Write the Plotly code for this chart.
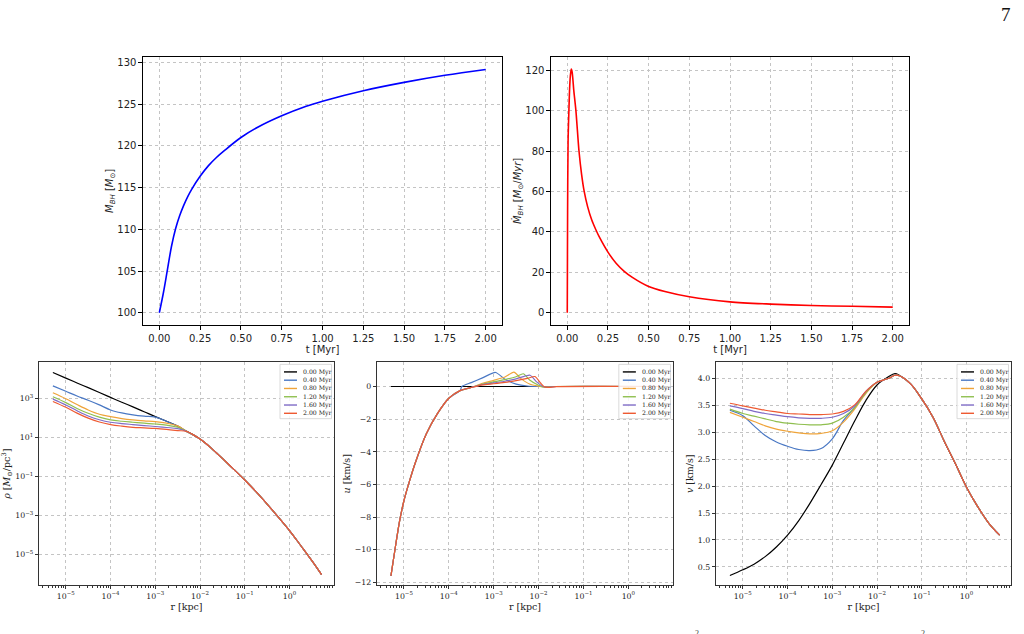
import plotly.graph_objects as go

# ---------------- data ----------------
t_mass = [0.0, 0.025, 0.05, 0.075, 0.1, 0.125, 0.15, 0.175, 0.2, 0.25, 0.3, 0.35, 0.4, 0.5, 0.6, 0.75, 0.9, 1.0, 1.25, 1.5, 1.75, 2.0]
m_bh = [100.0, 102.4, 105.2, 108.0, 110.1, 111.65, 112.9, 113.95, 114.85, 116.35, 117.6, 118.6, 119.45, 121.0, 122.2, 123.6, 124.75, 125.35, 126.6, 127.6, 128.45, 129.15]

t_rate = [0.0, 0.002, 0.005, 0.01, 0.015, 0.02, 0.025, 0.03, 0.04, 0.053, 0.072, 0.088, 0.104, 0.125, 0.15, 0.175, 0.2, 0.25, 0.3, 0.35, 0.4, 0.5, 0.6, 0.75, 1.0, 1.25, 1.5, 1.75, 2.0]
mdot_bh = [0.0, 50.0, 85.0, 100.0, 112.0, 118.0, 120.5, 119.0, 110.0, 100.0, 80.0, 68.5, 60.0, 52.5, 46.0, 41.2, 37.0, 30.0, 24.5, 20.5, 17.5, 13.0, 10.5, 7.9, 5.4, 4.3, 3.6, 3.2, 2.8]

labels = ["0.00 Myr", "0.40 Myr", "0.80 Myr", "1.20 Myr", "1.60 Myr", "2.00 Myr"]
colors = ["#000000", "#4a78c4", "#efa43a", "#8fbf4f", "#7f6cc6", "#ee5a32"]

# density profiles
r_in = [5.13e-6, 1.0e-5, 1.78e-5, 3.16e-5, 5.62e-5, 1.0e-4, 1.78e-4, 3.16e-4, 5.62e-4, 1.0e-3, 1.78e-3, 3.16e-3]
r_out = [5.01e-3, 7.08e-3, 1.0e-2, 1.33e-2, 1.78e-2, 2.37e-2, 3.16e-2, 5.62e-2, 0.1, 0.178, 0.316, 0.562, 1.0, 1.78, 3.16, 5.21]
rho_out = [20.9, 13.8, 8.51, 5.13, 2.88, 1.57, 0.847, 0.239, 0.0658, 0.0165, 3.80e-3, 8.13e-4, 1.66e-4, 2.82e-5, 4.68e-6, 8.91e-7]
rho_000 = [2.24e4, 1.15e4, 6.46e3, 3.72e3, 2.09e3, 1.17e3, 661, 380, 214, 120, 69.2, 38.9]
rho_040 = [4.57e3, 2.40e3, 1.38e3, 832, 479, 263, 186, 148, 126, 112, 69.2, 38.9]
rho_080 = [2.04e3, 1.0e3, 501, 263, 158, 120, 95.5, 81.3, 72.4, 66.1, 55.0, 39.8]
rho_120 = [1.26e3, 631, 316, 178, 112, 81.3, 69.2, 61.7, 55.0, 50.1, 43.7, 33.9]
rho_160 = [955, 479, 240, 129, 83.2, 61.7, 52.5, 46.8, 41.7, 37.2, 33.1, 28.8]
rho_200 = [724, 363, 182, 100, 63.1, 46.8, 38.9, 33.9, 31.6, 29.5, 26.3, 22.9]

# radial velocity
r_u0 = [5.13e-6, 1.0e-4, 1.0e-3, 1.0e-2, 0.1, 1.0, 5.21]
u_000 = [0.0, 0.0, 0.0, 0.0, 0.0, 0.0, 0.0]
r_uin = [5.13e-6, 6.31e-6, 7.94e-6, 1.0e-5, 1.33e-5, 1.78e-5, 3.16e-5, 5.62e-5, 1.0e-4, 1.78e-4]
u_in = [-11.6, -10.0, -8.3, -7.0, -5.8, -4.7, -2.9, -1.65, -0.72, -0.25]
r_u040 = [1.95e-4, 3.16e-4, 5.62e-4, 1.10e-3, 1.78e-3, 3.16e-3, 5.62e-3, 1.0e-2, 5.21]
u_040 = [0.0, 0.24, 0.53, 0.86, 0.45, 0.15, 0.03, 0.0, 0.0]
r_u080 = [3.16e-4, 5.62e-4, 1.0e-3, 1.78e-3, 2.82e-3, 3.98e-3, 6.31e-3, 1.0e-2, 1.41e-2, 2.0e-2, 5.21]
u_080 = [-0.06, 0.2, 0.38, 0.58, 0.88, 0.5, 0.15, 0.02, -0.04, 0.0, 0.0]
r_u120 = [3.16e-4, 5.62e-4, 1.0e-3, 1.78e-3, 3.16e-3, 4.57e-3, 6.31e-3, 1.0e-2, 1.35e-2, 2.0e-2, 5.21]
u_120 = [-0.06, 0.15, 0.28, 0.42, 0.6, 0.78, 0.4, 0.08, -0.04, 0.0, 0.0]
r_u160 = [3.16e-4, 5.62e-4, 1.0e-3, 1.78e-3, 3.16e-3, 6.46e-3, 8.91e-3, 1.26e-2, 1.58e-2, 2.5e-2, 5.21]
u_160 = [-0.06, 0.12, 0.22, 0.32, 0.47, 0.69, 0.3, 0.0, -0.05, 0.0, 0.0]
r_u200 = [3.16e-4, 5.62e-4, 1.0e-3, 1.78e-3, 3.16e-3, 5.62e-3, 8.32e-3, 1.12e-2, 1.35e-2, 1.66e-2, 2.5e-2, 5.21]
u_200 = [-0.06, 0.1, 0.17, 0.25, 0.36, 0.5, 0.61, 0.2, -0.02, -0.05, -0.01, 0.0]

# velocity dispersion
r_v = [5.13e-6, 1.0e-5, 1.78e-5, 3.16e-5, 5.62e-5, 1.0e-4, 1.78e-4, 3.16e-4, 5.62e-4, 1.0e-3,
       1.78e-3, 3.16e-3, 5.62e-3, 1.0e-2, 1.78e-2, 2.51e-2, 3.16e-2, 5.62e-2, 0.1, 0.178,
       0.316, 0.562, 1.0, 1.78, 3.16, 5.5]
v_000 = [0.34, 0.445, 0.55, 0.69, 0.87, 1.09, 1.36, 1.68, 2.03, 2.39, 2.80, 3.21, 3.59, 3.88, 4.03, 4.09, 4.06, 3.90, 3.62, 3.28, 2.84, 2.42, 1.98, 1.62, 1.31, 1.09]
v_040 = [3.41, 3.31, 3.12, 2.94, 2.82, 2.74, 2.68, 2.66, 2.70, 2.88, 3.22, 3.46, 3.74, 3.93, 4.00, 4.06, 4.05, 3.90, 3.62, 3.28, 2.84, 2.42, 1.98, 1.62, 1.31, 1.09]
v_080 = [3.37, 3.28, 3.20, 3.12, 3.06, 3.02, 2.99, 2.97, 2.98, 3.03, 3.19, 3.43, 3.72, 3.93, 4.00, 4.06, 4.05, 3.90, 3.62, 3.28, 2.84, 2.42, 1.98, 1.62, 1.31, 1.09]
v_120 = [3.43, 3.35, 3.30, 3.25, 3.20, 3.17, 3.15, 3.14, 3.14, 3.17, 3.28, 3.46, 3.74, 3.93, 4.00, 4.06, 4.05, 3.90, 3.62, 3.28, 2.84, 2.42, 1.98, 1.62, 1.31, 1.09]
v_160 = [3.49, 3.44, 3.39, 3.35, 3.32, 3.29, 3.27, 3.26, 3.26, 3.28, 3.35, 3.49, 3.76, 3.93, 4.00, 4.06, 4.05, 3.90, 3.62, 3.28, 2.84, 2.42, 1.98, 1.62, 1.31, 1.09]
v_200 = [3.54, 3.49, 3.45, 3.41, 3.38, 3.35, 3.34, 3.33, 3.33, 3.34, 3.39, 3.51, 3.76, 3.93, 4.00, 4.06, 4.05, 3.90, 3.62, 3.28, 2.84, 2.42, 1.98, 1.62, 1.31, 1.09]

log_ticks = [1e-5, 1e-4, 1e-3, 1e-2, 1e-1, 1e0]
log_tick_text = ["10<sup>−5</sup>", "10<sup>−4</sup>", "10<sup>−3</sup>", "10<sup>−2</sup>", "10<sup>−1</sup>", "10<sup>0</sup>"]
rho_ticks = [1e-5, 1e-3, 1e-1, 1e1, 1e3]
rho_tick_text = ["10<sup>−5</sup>", "10<sup>−3</sup>", "10<sup>−1</sup>", "10<sup>1</sup>", "10<sup>3</sup>"]

# ---------------- figure ----------------
fig = go.Figure()

fig.add_trace(go.Scatter(x=t_mass, y=m_bh, mode="lines", line=dict(color="#0000ff", width=1.6, shape="spline", smoothing=1.0),
                         xaxis="x", yaxis="y", showlegend=False))
fig.add_trace(go.Scatter(x=t_rate, y=mdot_bh, mode="lines", line=dict(color="#ff0000", width=1.6, shape="spline", smoothing=0.8),
                         xaxis="x2", yaxis="y2", showlegend=False))

rho_series = [rho_000, rho_040, rho_080, rho_120, rho_160, rho_200]
for c, rin in zip(colors, rho_series):
    fig.add_trace(go.Scatter(x=r_in + r_out, y=rin + rho_out, mode="lines",
                             line=dict(color=c, width=1.2, shape="spline", smoothing=1.0),
                             xaxis="x3", yaxis="y3", showlegend=False))

fig.add_trace(go.Scatter(x=r_u0, y=u_000, mode="lines", line=dict(color=colors[0], width=1.2), xaxis="x4", yaxis="y4", showlegend=False))
u_parts = [(r_u040, u_040), (r_u080, u_080), (r_u120, u_120), (r_u160, u_160), (r_u200, u_200)]
for c, (rr, uu) in zip(colors[1:], u_parts):
    fig.add_trace(go.Scatter(x=r_uin + rr, y=u_in + uu, mode="lines",
                             line=dict(color=c, width=1.2, shape="spline", smoothing=0.6),
                             xaxis="x4", yaxis="y4", showlegend=False))

v_series = [v_000, v_040, v_080, v_120, v_160, v_200]
for c, vv in zip(colors, v_series):
    fig.add_trace(go.Scatter(x=r_v, y=vv, mode="lines", line=dict(color=c, width=1.2, shape="spline", smoothing=1.0),
                             xaxis="x5", yaxis="y5", showlegend=False))

SANS = "DejaVu Sans"
SERIF = "DejaVu Serif"
grid = dict(showgrid=True, gridcolor="#c4c4c4", griddash="dot", gridwidth=0.8, zeroline=False)

def top_axis(domain, rng, title, **kw):
    d = dict(domain=domain, range=rng, showline=True, mirror=True, linecolor="#000", linewidth=1.2,
             ticks="outside", ticklen=3.5, tickwidth=1, tickcolor="#000",
             tickfont=dict(family=SANS, size=10, color="#222"),
             title=dict(text=title, font=dict(family=SANS, size=10, color="#222"), standoff=1))
    d.update(grid)
    d.update(kw)
    return d

def bot_axis(domain, rng, title, **kw):
    d = dict(domain=domain, range=rng, showline=True, mirror=True, linecolor="#333", linewidth=1.4,
             ticks="outside", ticklen=3, tickwidth=0.8, tickcolor="#333",
             tickfont=dict(family=SERIF, size=7.8, color="#222"),
             title=dict(text=title, font=dict(family=SERIF, size=9.5, color="#222"), standoff=2))
    d.update(grid)
    d.update(kw)
    return d

minor_vals = [k * 10.0 ** e for e in range(-6, 1) for k in range(2, 10)]
logx = dict(type="log", tickmode="array", tickvals=log_ticks, ticktext=log_tick_text,
            minor=dict(ticks="outside", ticklen=1.8, tickcolor="#333", tickmode="array", tickvals=minor_vals, showgrid=False))

ytop = [1 - 326 / 634, 1 - 57 / 634]
ybot = [1 - 587 / 634, 1 - 363.5 / 634]

fig.update_layout(
    width=1024, height=634, margin=dict(l=0, r=0, t=0, b=0),
    paper_bgcolor="white", plot_bgcolor="white",
    xaxis=top_axis([143 / 1024, 502 / 1024], [-0.1, 2.1], "t [Myr]", anchor="y", tickformat=".2f", dtick=0.25),
    yaxis=top_axis(ytop, [98.54, 130.66], "<i>M</i><sub><i>BH</i></sub> [<i>M</i><sub>⊙</sub>]", anchor="x", dtick=5),
    xaxis2=top_axis([551 / 1024, 909 / 1024], [-0.1, 2.1], "t [Myr]", anchor="y2", tickformat=".2f", dtick=0.25),
    yaxis2=top_axis(ytop, [-6.03, 126.6], "<i>\u1e40</i><sub><i>BH</i></sub> [<i>M</i><sub>⊙</sub>/<i>Myr</i>]", anchor="x2", dtick=20),
    xaxis3=bot_axis([39 / 1024, 334 / 1024], [-5.6, 0.995], "r [kpc]", anchor="y3", **logx),
    yaxis3=bot_axis(ybot, [-6.59, 4.87], "<i>ρ</i> [<i>M</i><sub>⊙</sub>/pc<sup>3</sup>]", anchor="x3",
                    type="log", tickmode="array", tickvals=rho_ticks, ticktext=rho_tick_text),
    xaxis4=bot_axis([377 / 1024, 673 / 1024], [-5.6, 0.995], "r [kpc]", anchor="y4", **logx),
    yaxis4=bot_axis(ybot, [-12.17, 1.48], "<i>u</i> [km/s]", anchor="x4", dtick=2),
    xaxis5=bot_axis([716 / 1024, 1011 / 1024], [-5.6, 0.995], "r [kpc]", anchor="y5", **logx),
    yaxis5=bot_axis(ybot, [0.16, 4.30], "<i>v</i> [km/s]", anchor="x5", dtick=0.5, tickformat=".1f"),
    showlegend=False,
)

# legends drawn inside each lower panel (upper-right corner)
W, H = 295.0, 223.5
shapes = []
annotations = []
for k in (3, 4, 5):
    xr, yr = f"x{k} domain", f"y{k} domain"
    shapes.append(dict(type="rect", xref=xr, yref=yr, x0=1 - 54 / W, x1=1 - 2.5 / W, y0=1 - 56.5 / H, y1=1 - 2 / H,
                       fillcolor="rgba(255,255,255,0.85)", line=dict(color="#d0d0d0", width=0.8), layer="above"))
    for i, (lab, c) in enumerate(zip(labels, colors)):
        yy = 1 - (9.6 + 8.3 * i) / H
        shapes.append(dict(type="line", xref=xr, yref=yr, x0=1 - 50 / W, x1=1 - 37 / W, y0=yy, y1=yy,
                           line=dict(color=c, width=1.4), layer="above"))
        annotations.append(dict(xref=xr, yref=yr, x=1 - 33 / W, y=yy, text=lab, showarrow=False,
                                xanchor="left", yanchor="middle",
                                font=dict(family=SERIF, size=6.2, color="#222")))

annotations.append(dict(xref="paper", yref="paper", x=1006 / 1024, y=1 - 15 / 634, text="7", showarrow=False,
                        xanchor="center", yanchor="middle", font=dict(family="Liberation Serif", size=19, color="#111")))
# fragments of the next page line, cut by the bottom edge
for xp in (697, 923):
    annotations.append(dict(xref="paper", yref="paper", x=xp / 1024, y=1 - 629 / 634, text="2", showarrow=False,
                            xanchor="center", yanchor="top", font=dict(family="Liberation Serif", size=8, color="#333")))

fig.update_layout(shapes=shapes, annotations=annotations)

fig.write_html("out.html")
